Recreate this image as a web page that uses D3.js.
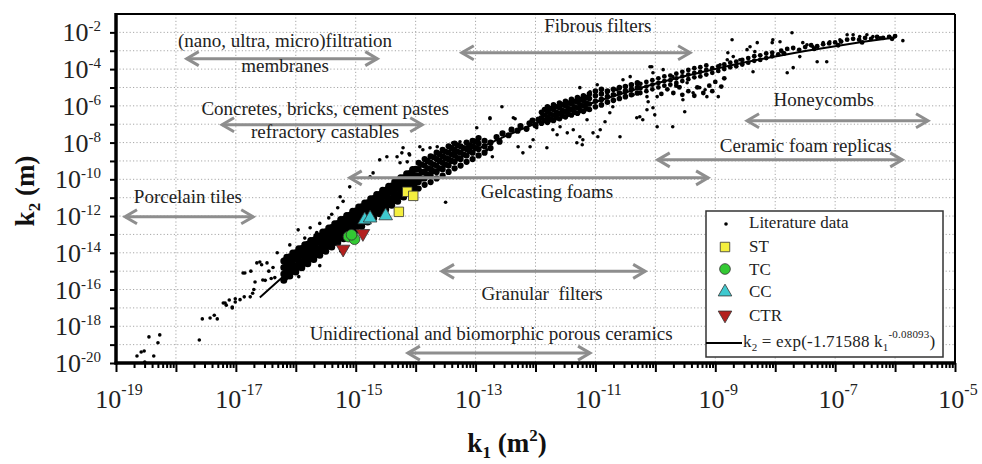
<!DOCTYPE html>
<html><head><meta charset="utf-8">
<script src="https://cdn.jsdelivr.net/npm/d3@7"></script>
<style>body{margin:0;background:#fff}svg{display:block}</style>
</head><body>
<svg id="chart" width="982" height="464"></svg>
<script>
// ---------- DATA (log10 exponents: [log10 k1 (m²), log10 k2 (m)]) ----------
const xLabelExps = [-19, -17, -15, -13, -11, -9, -7, -5];
const yLabelExps = [-20, -18, -16, -14, -12, -10, -8, -6, -4, -2];

const litTail = [[-18.65,-19.62],[-18.58,-19.4],[-18.53,-19.35],[-18.45,-18.58],[-18.37,-19.62],[-18.3,-18.9],[-18.27,-18.47],[-18.52,-19.95],
[-17.61,-18.75],[-17.56,-17.6],[-17.43,-17.55],[-17.36,-17.4],[-17.31,-17.6],[-17.21,-16.73],[-17.16,-16.85],[-17.11,-16.57],[-17.06,-17.0],[-17.01,-16.5],
[-16.93,-16.55],[-16.86,-16.4],[-16.88,-15.1],[-16.75,-15.0],[-16.7,-16.0],[-16.65,-14.55],[-16.57,-14.65],[-16.72,-16.2],[-16.51,-15.5],[-16.41,-15.4],
[-16.35,-15.35],[-16.21,-15.1],[-16.13,-14.55],[-17.18,-16.73],[-17.06,-16.95],[-17.01,-16.68],[-16.76,-16.4],[-16.85,-15.1],[-16.6,-14.5],[-16.48,-14.55],
[-16.68,-15.59],[-16.55,-15.48],[-16.31,-14.0],[-16.1,-13.57],[-15.96,-12.75],[-15.76,-12.64],[-15.6,-12.4],[-15.45,-12.1],[-15.65,-12.9],[-15.85,-13.2],[-15.4,-11.9],
[-15.95,-15.3],[-15.6,-14.7],[-15.25,-13.9],[-16.45,-15.0],[-16.38,-14.8]];

const litBand = [
[-16.2,-15.5],[-16.2,-15.15],[-16.2,-14.8],[-16.2,-14.45],[-16.15,-15.24],[-16.15,-14.9],[-16.15,-14.54],[-16.15,-14.24],
[-16.1,-15.27],[-16.1,-14.92],[-16.1,-14.57],[-16.1,-14.22],[-16.05,-15.01],[-16.05,-14.66],[-16.05,-14.31],[-16.05,-14.01],
[-16.0,-15.05],[-16.0,-14.7],[-16.0,-14.35],[-16.0,-14.0],[-15.95,-14.78],[-15.95,-14.43],[-15.95,-14.08],[-15.95,-13.78],
[-15.9,-14.82],[-15.9,-14.47],[-15.9,-14.12],[-15.9,-13.77],[-15.85,-14.56],[-15.85,-14.21],[-15.85,-13.86],[-15.85,-13.56],
[-15.8,-14.59],[-15.8,-14.24],[-15.8,-13.89],[-15.8,-13.54],[-15.75,-14.33],[-15.75,-13.98],[-15.75,-13.63],[-15.75,-13.33],
[-15.7,-14.37],[-15.7,-14.02],[-15.7,-13.67],[-15.7,-13.32],[-15.65,-14.1],[-15.65,-13.75],[-15.65,-13.4],[-15.65,-13.1],
[-15.6,-14.14],[-15.6,-13.79],[-15.6,-13.44],[-15.6,-13.09],[-15.55,-13.87],[-15.55,-13.52],[-15.55,-13.17],[-15.55,-12.87],
[-15.5,-13.91],[-15.5,-13.56],[-15.5,-13.21],[-15.5,-12.86],[-15.45,-13.65],[-15.45,-13.3],[-15.45,-12.95],[-15.45,-12.65],
[-15.4,-13.68],[-15.4,-13.33],[-15.4,-12.98],[-15.4,-12.63],[-15.35,-13.42],[-15.35,-13.07],[-15.35,-12.72],[-15.35,-12.42],
[-15.3,-13.46],[-15.3,-13.11],[-15.3,-12.76],[-15.3,-12.41],[-15.25,-13.19],[-15.25,-12.84],[-15.25,-12.49],[-15.25,-12.19],
[-15.2,-13.23],[-15.2,-12.88],[-15.2,-12.53],[-15.2,-12.18],[-15.15,-12.97],[-15.15,-12.62],[-15.15,-12.27],[-15.15,-11.97],
[-15.1,-13.0],[-15.1,-12.65],[-15.1,-12.3],[-15.1,-11.95],[-15.05,-12.74],[-15.05,-12.39],[-15.05,-12.04],[-15.05,-11.74],
[-15.0,-12.78],[-15.0,-12.43],[-15.0,-12.08],[-15.0,-11.73],[-14.95,-12.51],[-14.95,-12.16],[-14.95,-11.81],[-14.95,-11.51],
[-14.9,-12.55],[-14.9,-12.2],[-14.9,-11.85],[-14.9,-11.5],[-14.85,-12.29],[-14.85,-11.94],[-14.85,-11.59],[-14.85,-11.29],
[-14.8,-12.32],[-14.8,-11.97],[-14.8,-11.62],[-14.8,-11.27],[-14.75,-12.06],[-14.75,-11.71],[-14.75,-11.36],[-14.75,-11.06],
[-14.7,-12.1],[-14.7,-11.75],[-14.7,-11.4],[-14.7,-11.05],[-14.65,-11.83],[-14.65,-11.48],[-14.65,-11.13],[-14.65,-10.83],
[-14.6,-11.87],[-14.6,-11.52],[-14.6,-11.17],[-14.6,-10.82],[-14.55,-11.6],[-14.55,-11.25],[-14.55,-10.9],[-14.55,-10.6],
[-14.5,-11.64],[-14.5,-11.29],[-14.5,-10.94],[-14.5,-10.59],[-14.45,-11.38],[-14.45,-11.03],[-14.45,-10.68],[-14.45,-10.38],
[-14.4,-11.41],[-14.4,-11.06],[-14.4,-10.71],[-14.4,-10.36],[-14.35,-11.15],[-14.35,-10.8],[-14.35,-10.45],[-14.35,-10.15],
[-14.3,-11.19],[-14.3,-10.84],[-14.3,-10.49],[-14.3,-10.14],[-14.25,-10.92],[-14.25,-10.57],[-14.25,-10.22],[-14.25,-9.92],
[-14.2,-10.96],[-14.2,-10.61],[-14.2,-10.26],[-14.2,-9.91],[-14.15,-10.7],[-14.15,-10.35],[-14.15,-10.0],[-14.15,-9.7],
[-14.1,-10.73],[-14.1,-10.38],[-14.1,-10.03],[-14.1,-9.68],[-14.05,-10.47],[-14.05,-10.12],[-14.05,-9.77],[-14.05,-9.47],
[-14.0,-10.5],[-14.0,-10.15],[-14.0,-9.8],[-14.0,-9.45]];

const litBandExtra = [[-16.17,-15.3],[-16.12,-14.75],[-16.07,-14.45],[-16.02,-14.85],[-15.97,-14.2],[-15.93,-14.6],[-15.88,-13.95],[-15.83,-14.4],
[-15.78,-13.75],[-15.73,-14.15],[-15.68,-13.5],[-15.63,-13.9],[-15.58,-13.3],[-15.53,-13.7],[-15.48,-13.05],[-15.43,-13.45],[-15.38,-12.8],
[-15.33,-13.25],[-15.28,-12.6],[-15.23,-13.0],[-15.18,-12.35],[-15.13,-12.8],[-15.08,-12.15],[-15.03,-12.55],[-14.98,-11.9],[-14.93,-12.35],
[-14.88,-11.7],[-14.83,-12.1],[-14.78,-11.45],[-14.73,-11.9],[-14.68,-11.25],[-14.63,-11.65],[-14.58,-11.0],[-14.53,-11.45],[-14.48,-10.8],
[-14.43,-11.2],[-14.38,-10.55],[-14.33,-11.0],[-14.28,-10.35],[-14.23,-10.75],[-14.18,-10.1],[-14.13,-10.55],[-14.08,-9.9],[-14.03,-10.3]];

const litCluster13 = [
[-13.95,-10.5],[-13.95,-10.15],[-13.95,-9.8],[-13.95,-9.45],[-13.95,-9.1],[-13.85,-10.3],[-13.85,-9.95],[-13.85,-9.6],[-13.85,-9.25],[-13.85,-8.9],
[-13.75,-10.15],[-13.75,-9.8],[-13.75,-9.45],[-13.75,-9.1],[-13.75,-8.75],[-13.65,-9.95],[-13.65,-9.6],[-13.65,-9.25],[-13.65,-8.9],[-13.65,-8.55],
[-13.55,-9.8],[-13.55,-9.45],[-13.55,-9.1],[-13.55,-8.75],[-13.55,-8.4],[-13.45,-9.6],[-13.45,-9.25],[-13.45,-8.9],[-13.45,-8.55],[-13.45,-8.2],
[-13.35,-9.4],[-13.35,-9.05],[-13.35,-8.7],[-13.35,-8.4],[-13.35,-8.05],[-13.25,-9.25],[-13.25,-8.9],[-13.25,-8.55],[-13.25,-8.2],
[-13.15,-9.05],[-13.15,-8.7],[-13.15,-8.35],[-13.15,-8.0],[-13.05,-8.9],[-13.05,-8.55],[-13.05,-8.2],[-13.05,-7.9],
[-12.95,-8.7],[-12.95,-8.35],[-12.95,-8.05],[-12.95,-7.75],[-12.85,-8.55],[-12.85,-8.2],[-12.85,-7.9],[-12.75,-8.3],[-12.75,-8.0],
[-13.9,-9.95],[-13.9,-9.6],[-13.9,-9.2],[-13.8,-9.75],[-13.8,-9.4],[-13.8,-9.0],[-13.7,-9.55],[-13.7,-9.2],[-13.7,-8.8],
[-13.6,-9.4],[-13.6,-9.0],[-13.6,-8.65],[-13.5,-9.2],[-13.5,-8.85],[-13.5,-8.5],[-13.4,-9.0],[-13.4,-8.65],[-13.4,-8.3],
[-13.3,-8.85],[-13.3,-8.5],[-13.3,-8.15],[-13.2,-8.65],[-13.2,-8.3],[-13.1,-8.45],[-13.1,-8.15],[-13.0,-8.3],[-13.0,-7.95],
[-12.65,-7.7],[-12.6,-7.95],[-12.55,-7.5],[-12.45,-7.6],[-12.4,-7.3],[-12.3,-7.35],[-12.25,-7.1],[-12.15,-7.25],[-12.1,-6.95],[-12.0,-7.05],[-12.05,-6.8],[-11.95,-6.75]];

const litCluster11 = [
[-11.9,-6.95],[-11.9,-6.65],[-11.9,-6.35],[-11.85,-6.8],[-11.85,-6.5],[-11.85,-6.2],[-11.8,-6.9],[-11.8,-6.6],[-11.8,-6.3],[-11.8,-6.05],
[-11.75,-6.75],[-11.75,-6.45],[-11.75,-6.15],[-11.7,-6.8],[-11.7,-6.5],[-11.7,-6.2],[-11.7,-5.95],[-11.65,-6.65],[-11.65,-6.35],[-11.65,-6.05],
[-11.6,-6.7],[-11.6,-6.4],[-11.6,-6.1],[-11.6,-5.85],[-11.55,-6.55],[-11.55,-6.25],[-11.55,-5.95],[-11.5,-6.6],[-11.5,-6.3],[-11.5,-6.0],[-11.5,-5.75],
[-11.45,-6.45],[-11.45,-6.15],[-11.45,-5.85],[-11.4,-6.5],[-11.4,-6.2],[-11.4,-5.9],[-11.4,-5.65],[-11.35,-6.35],[-11.35,-6.05],[-11.35,-5.75],
[-11.3,-6.4],[-11.3,-6.1],[-11.3,-5.8],[-11.3,-5.55],[-11.25,-6.25],[-11.25,-5.95],[-11.25,-5.65],[-11.2,-6.3],[-11.2,-6.0],[-11.2,-5.7],[-11.2,-5.45],
[-11.15,-6.15],[-11.15,-5.85],[-11.15,-5.55],[-11.1,-6.2],[-11.1,-5.9],[-11.1,-5.6],[-11.1,-5.35],[-11.0,-6.05],[-11.0,-5.75],[-11.0,-5.45],[-11.0,-5.2],
[-10.9,-5.95],[-10.9,-5.65],[-10.9,-5.35],[-10.9,-5.1],[-10.8,-5.8],[-10.8,-5.5],[-10.8,-5.2],[-10.7,-5.7],[-10.7,-5.4],[-10.7,-5.1],
[-10.6,-5.6],[-10.6,-5.3],[-10.6,-5.0],[-10.5,-5.5],[-10.5,-5.2],[-10.5,-4.95],[-10.4,-5.4],[-10.4,-5.1],[-10.4,-4.85],[-10.3,-5.3],[-10.3,-5.0],[-10.3,-4.75]];

const litCluster9 = [
[-10.25,-5.3],[-10.25,-5.05],[-10.25,-4.8],[-10.15,-5.2],[-10.15,-4.95],[-10.15,-4.7],[-10.05,-5.1],[-10.05,-4.85],[-10.05,-4.6],
[-9.95,-5.0],[-9.95,-4.75],[-9.95,-4.5],[-9.85,-4.9],[-9.85,-4.65],[-9.85,-4.4],[-9.75,-4.85],[-9.75,-4.6],[-9.75,-4.35],
[-9.65,-4.75],[-9.65,-4.5],[-9.65,-4.25],[-9.55,-4.65],[-9.55,-4.4],[-9.55,-4.15],[-9.45,-4.55],[-9.45,-4.3],[-9.45,-4.05],
[-9.35,-4.45],[-9.35,-4.2],[-9.35,-3.95],[-9.25,-4.4],[-9.25,-4.15],[-9.25,-3.9],[-9.15,-4.3],[-9.15,-4.05],[-9.15,-3.8],
[-9.05,-4.2],[-9.05,-3.95],[-8.95,-4.1],[-8.95,-3.85],[-8.85,-4.0],[-8.85,-3.75],[-8.75,-3.9],[-8.75,-3.65],[-8.65,-3.85],[-8.65,-3.6],
[-8.55,-3.75],[-8.55,-3.5],[-8.45,-3.65],[-8.45,-3.4],[-8.35,-3.55],[-8.35,-3.3],[-8.25,-3.5],[-8.25,-3.25],[-8.15,-3.4],[-8.15,-3.15],
[-8.05,-3.3],[-8.05,-3.1],[-7.95,-3.2],[-7.85,-3.15],
[-9.8,-5.1],[-9.7,-5.3],[-9.6,-5.0],[-9.55,-5.4],[-9.45,-5.2],[-9.35,-5.45],[-9.3,-5.0],[-9.2,-5.3],[-9.1,-4.9],[-9.05,-5.2],[-9.0,-4.7],[-8.9,-4.95],[-8.85,-4.5],[-9.65,-4.9],[-9.9,-5.35],
[-7.9,-3.0],[-7.8,-2.9],[-7.7,-2.85],[-7.6,-2.95],[-7.5,-2.8],[-7.4,-2.7],[-7.3,-2.75],[-7.2,-2.65],[-7.1,-2.6],[-7.0,-2.55],[-6.9,-2.5],[-6.8,-2.4],
[-6.7,-2.35],[-6.6,-2.4],[-6.5,-2.3],[-6.4,-2.35],[-6.3,-2.25],[-6.2,-2.3],[-6.1,-2.25],[-6.0,-2.2],[-6.05,-2.35],[-6.55,-2.55],[-6.95,-2.7],[-7.35,-2.9]];

const litScatter = [
[-15.3,-11.55],[-15.21,-11.2],[-14.71,-9.65],[-14.23,-8.56],[-14.1,-8.67],[-14.14,-9.05],[-13.93,-9.5],
[-15.26,-10.95],[-15.1,-10.41],[-14.76,-9.86],[-14.6,-8.94],[-14.48,-8.77],[-14.31,-8.77],[-14.21,-8.28],[-13.93,-8.23],[-13.5,-11.25],
[-14.11,-8.61],[-14.26,-9.1],[-13.88,-8.39],[-13.76,-8.28],[-13.64,-8.23],[-13.59,-8.56],[-13.48,-8.94],[-13.38,-8.01],[-13.26,-7.96],
[-13.14,-8.23],[-13.04,-7.85],[-12.81,-8.39],[-12.72,-8.77],[-12.56,-6.05],[-12.76,-6.65],[-12.37,-6.65],[-12.29,-8.23],[-12.09,-8.23],
[-12.04,-7.85],[-11.89,-6.59],[-11.76,-6.38],[-11.71,-7.3],[-11.59,-7.14],[-11.47,-7.47],[-11.31,-8.01],[-11.21,-7.85],[-11.14,-6.76],
[-11.04,-7.47],[-10.96,-7.68],[-10.84,-6.87],[-10.76,-6.38],[-10.71,-6.05],[-10.54,-4.58],[-10.42,-4.41],[-10.59,-7.68],[-10.26,-6.59],
[-10.14,-5.5],[-12.98,-7.19],[-12.76,-6.7],[-12.34,-6.7],[-12.21,-8.56],[-11.98,-7.19],[-11.81,-8.28],[-11.64,-7.57],[-11.37,-7.3],
[-11.26,-7.68],[-11.22,-8.12],[-10.92,-7.3],[-11.26,-5.01],[-11.09,-5.23],[-10.97,-4.85],[-10.81,-5.29],[-10.64,-5.12],[-10.37,-5.4],
[-10.31,-6.65],[-10.21,-6.76],[-10.12,-5.78],[-10.06,-3.87],[-10.04,-4.2],[-9.97,-5.5],
[-10.09,-3.87],[-9.87,-4.03],[-9.71,-4.41],[-9.59,-4.96],[-9.54,-5.67],[-9.47,-4.74],[-9.37,-5.29],[-9.26,-5.01],[-9.17,-5.12],[-9.14,-5.5],
[-8.95,-5.5],[-8.92,-3.76],[-8.8,-3.49],[-8.79,-3.11],[-8.7,-3.32],[-8.59,-3.49],[-8.47,-2.94],[-8.42,-2.78],[-8.3,-2.56],[-8.34,-3.05],
[-8.72,-2.4],[-8.37,-4.14],[-8.05,-2.56],[-8.04,-2.4],[-7.92,-2.51],[-7.87,-3.11],[-7.8,-4.2],[-7.72,-2.02],[-7.7,-3.92],[-7.59,-3.32],
[-7.54,-2.56],[-7.47,-2.67],[-7.37,-2.78],[-7.3,-3.6],[-7.14,-3.6],[-7.2,-2.56],[-7.09,-2.51],[-6.92,-2.4],[-6.8,-2.13],[-6.7,-2.13],
[-6.59,-2.23],[-6.47,-2.13],[-6.37,-2.23],[-6.25,-2.29],[-6.09,-2.23],[-5.87,-2.45],[-9.71,-7.14],[-9.97,-7.14],[-10.01,-6.49],
[-10.04,-6.1],[-10.14,-6.21],[-9.51,-6.32]];

// Experimental samples
const stData  = [[-14.14,-10.68],[-14.04,-10.9],[-14.28,-11.77]];
const tcData  = [[-15.12,-13.12],[-15.02,-13.26],[-15.07,-13.02]];
const ccData  = [[-14.85,-12.21],[-14.76,-12.11],[-14.5,-11.99]];
const ctrData = [[-15.21,-13.8],[-14.88,-12.95]];

// Fit curve k2 = exp(-1.71588 k1^-0.08093), tabulated
const fitLogK1 = [-16.6,-16,-15.5,-15,-14.5,-14,-13.5,-13,-12.5,-12,-11.5,-11,-10.5,-10,-9.5,-9,-8.5,-8,-7.5,-7,-6.5,-6];
const fitLogK2 = [-16.43,-14.70,-13.39,-12.20,-11.11,-10.12,-9.22,-8.40,-7.65,-6.97,-6.35,-5.79,-5.27,-4.80,-4.38,-3.99,-3.63,-3.31,-3.02,-2.75,-2.50,-2.28];

// Annotation ranges (log10 k1 start, end, log10 k2 level)
const annotations = [
  {lines:["(nano, ultra, micro)filtration","membranes"], from:-17.82, to:-14.64, at:-3.43, tx:-16.18, ty:[-2.78,-4.14]},
  {lines:["Concretes, bricks, cement pastes","refractory castables"], from:-17.23, to:-13.89, at:-7.03, tx:-15.51, ty:[-6.48,-7.74]},
  {lines:["Porcelain tiles"], from:-18.85, to:-16.71, at:-12.04, tx:-17.80, ty:[-11.28]},
  {lines:["Fibrous filters"], from:-13.23, to:-9.42, at:-3.11, tx:-10.96, ty:[-1.96]},
  {lines:["Honeycombs"], from:-8.47, to:-5.45, at:-6.81, tx:-7.19, ty:[-5.99]},
  {lines:["Ceramic foam replicas"], from:-9.96, to:-5.88, at:-8.94, tx:-7.49, ty:[-8.50]},
  {lines:["Gelcasting foams"], from:-15.1, to:-9.12, at:-9.92, tx:-11.81, ty:[-11.01]},
  {lines:["Granular  filters"], from:-13.56, to:-10.17, at:-15.01, tx:-11.89, ty:[-16.57]},
  {lines:["Unidirectional and biomorphic porous ceramics"], from:-14.13, to:-11.09, at:-19.46, tx:-12.74, ty:[-18.75]}
];

// ---------- DRAWING ----------
const P = e => Math.pow(10, e);
const FONT = "'Liberation Serif','Times New Roman',serif";
const svg = d3.select("#chart");
const x = d3.scaleLog().domain([1e-19, 1e-5]).range([116, 955]);
const y = d3.scaleLog().domain([1e-20, 1e-1]).range([363, 14]);

// grid
const grid = svg.append("g").attr("stroke", "#a8a8a8").attr("stroke-width", 1).attr("stroke-dasharray", "1.2,2.2");
d3.range(-18, -5).forEach(e => grid.append("line").attr("x1", x(P(e))).attr("x2", x(P(e))).attr("y1", y(1e-1)).attr("y2", y(1e-20)));
d3.range(-19, -1).forEach(e => grid.append("line").attr("x1", x(1e-19)).attr("x2", x(1e-5)).attr("y1", y(P(e))).attr("y2", y(P(e))));

// literature points
const pts = svg.append("g").attr("fill", "#000");
function dots(data, r) {
  pts.append("g").selectAll("circle").data(data).join("circle")
    .attr("cx", d => x(P(d[0]))).attr("cy", d => y(P(d[1]))).attr("r", r);
}
dots(litTail, 1.8);
dots(litScatter, 1.8);
dots(litBand, 3.5);
dots(litBandExtra, 3.5);
dots(litCluster13, 3.1);
dots(litCluster11, 2.8);
dots(litCluster9, 2.4);

// fit line
const fitPts = fitLogK1.map((v, i) => [P(v), P(fitLogK2[i])]);
svg.append("path").datum(fitPts)
  .attr("d", d3.line().x(d => x(d[0])).y(d => y(d[1])).curve(d3.curveMonotoneX))
  .attr("fill", "none").attr("stroke", "#000").attr("stroke-width", 2);

// annotation arrows
const arrowColor = "#8e8e8e";
function arrow(g, x1, x2, yy) {
  g.append("line").attr("x1", x1).attr("x2", x2).attr("y1", yy).attr("y2", yy);
  g.append("path").attr("d", `M${x1 + 12},${yy - 7} L${x1},${yy} L${x1 + 12},${yy + 7}`);
  g.append("path").attr("d", `M${x2 - 12},${yy - 7} L${x2},${yy} L${x2 - 12},${yy + 7}`);
}
const ag = svg.append("g").attr("stroke", arrowColor).attr("stroke-width", 3).attr("fill", "none");
annotations.forEach(a => arrow(ag, x(P(a.from)), x(P(a.to)), y(P(a.at))));
const tg = svg.append("g").attr("font-family", FONT).attr("font-size", 19).attr("fill", "#222").attr("text-anchor", "middle");
annotations.forEach(a => a.lines.forEach((t, i) =>
  tg.append("text").attr("x", x(P(a.tx))).attr("y", y(P(a.ty[i]))).attr("xml:space", "preserve").text(t)));

// samples
const sym = (type, size) => d3.symbol().type(type).size(size)();
function samples(data, type, size, fill, rot) {
  svg.append("g").selectAll("path").data(data).join("path")
    .attr("d", sym(type, size))
    .attr("transform", d => `translate(${x(P(d[0]))},${y(P(d[1]))})` + (rot ? " rotate(180)" : ""))
    .attr("fill", fill).attr("stroke", "#333").attr("stroke-width", 0.8);
}
samples(stData, d3.symbolSquare, 90, "#f4ef3e", false);
samples(tcData, d3.symbolCircle, 90, "#33c933", false);
samples(ccData, d3.symbolTriangle, 80, "#3fc9cf", false);
samples(ctrData, d3.symbolTriangle, 80, "#b3201e", true);

// axes
const yAxis = svg.append("g").attr("transform", `translate(${x(1e-19)},0)`)
  .call(d3.axisLeft(y).tickValues(d3.range(-20, -1).map(P)).tickSize(6).tickFormat(""));
const xMajor = svg.append("g").attr("transform", `translate(0,${y(1e-20)})`)
  .call(d3.axisBottom(x).tickValues(d3.range(-19, -4).map(P)).tickSize(9).tickFormat(""));
const minorVals = [];
d3.range(-19, -5).forEach(e => d3.range(2, 10).forEach(m => minorVals.push(m * P(e))));
const xMinor = svg.append("g").attr("transform", `translate(0,${y(1e-20)})`)
  .call(d3.axisBottom(x).tickValues(minorVals).tickSize(5).tickFormat(""));
[yAxis, xMajor, xMinor].forEach(g => {
  g.select(".domain").remove();
  g.selectAll(".tick line").attr("stroke", "#000").attr("stroke-width", 2);
});

// frame
svg.append("line").attr("x1", x(1e-19)).attr("x2", x(1e-5)).attr("y1", y(1e-1)).attr("y2", y(1e-1)).attr("stroke", "#000").attr("stroke-width", 2);
svg.append("line").attr("x1", x(1e-5)).attr("x2", x(1e-5)).attr("y1", y(1e-1)).attr("y2", y(1e-20)).attr("stroke", "#000").attr("stroke-width", 2);
svg.append("line").attr("x1", x(1e-19)).attr("x2", x(1e-19)).attr("y1", y(1e-1) - 1).attr("y2", y(1e-20) + 1.5).attr("stroke", "#000").attr("stroke-width", 3.5);
svg.append("line").attr("x1", x(1e-19) - 1.5).attr("x2", x(1e-5) + 1).attr("y1", y(1e-20)).attr("y2", y(1e-20)).attr("stroke", "#000").attr("stroke-width", 3.5);

// tick labels
const lab = svg.append("g").attr("font-family", FONT).attr("fill", "#222");
yLabelExps.forEach(e => {
  const t = lab.append("text").attr("x", x(1e-19) - 15).attr("y", y(P(e)) + 9).attr("text-anchor", "end").attr("font-size", 26);
  t.append("tspan").text("10");
  t.append("tspan").attr("font-size", 15).attr("dy", -10).text(String(e));
});
xLabelExps.forEach(e => {
  const t = lab.append("text").attr("x", x(P(e)) + 3).attr("y", y(1e-20) + 45).attr("text-anchor", "middle").attr("font-size", 26);
  t.append("tspan").text("10");
  t.append("tspan").attr("font-size", 16).attr("dy", -13).text(String(e));
});

// axis titles
const yt = svg.append("text").attr("transform", "translate(34,191) rotate(-90)").attr("text-anchor", "middle")
  .attr("font-family", FONT).attr("font-weight", "bold").attr("font-size", 27).attr("fill", "#111");
yt.append("tspan").text("k");
yt.append("tspan").attr("font-size", 17).attr("dy", 6).text("2");
yt.append("tspan").attr("dy", -6).text(" (m)");
const xt = svg.append("text").attr("x", 507).attr("y", 452).attr("text-anchor", "middle")
  .attr("font-family", FONT).attr("font-weight", "bold").attr("font-size", 27).attr("fill", "#111");
xt.append("tspan").text("k");
xt.append("tspan").attr("font-size", 17).attr("dy", 6).text("1");
xt.append("tspan").attr("dy", -6).text(" (m");
xt.append("tspan").attr("font-size", 17).attr("dy", -11).text("2");
xt.append("tspan").attr("dy", 11).text(")");

// legend
const lg = svg.append("g");
lg.append("rect").attr("x", 706).attr("y", 211).attr("width", 237).attr("height", 146)
  .attr("fill", "#fff").attr("stroke", "#333").attr("stroke-width", 1.5);
lg.append("circle").attr("cx", 726).attr("cy", 224).attr("r", 1.8).attr("fill", "#000");
lg.append("path").attr("d", sym(d3.symbolSquare, 90)).attr("transform", "translate(725,247)").attr("fill", "#f4ef3e").attr("stroke", "#333").attr("stroke-width", 0.8);
lg.append("path").attr("d", sym(d3.symbolCircle, 90)).attr("transform", "translate(725,269)").attr("fill", "#33c933").attr("stroke", "#333").attr("stroke-width", 0.8);
lg.append("path").attr("d", sym(d3.symbolTriangle, 80)).attr("transform", "translate(725,292)").attr("fill", "#3fc9cf").attr("stroke", "#333").attr("stroke-width", 0.8);
lg.append("path").attr("d", sym(d3.symbolTriangle, 80)).attr("transform", "translate(725,315) rotate(180)").attr("fill", "#b3201e").attr("stroke", "#333").attr("stroke-width", 0.8);
lg.append("line").attr("x1", 706).attr("x2", 742).attr("y1", 343).attr("y2", 343).attr("stroke", "#000").attr("stroke-width", 2);
const lt = lg.append("g").attr("font-family", FONT).attr("font-size", 17).attr("fill", "#222");
[["Literature data", 228], ["ST", 252], ["TC", 275], ["CC", 297], ["CTR", 321]].forEach(([t, yy]) =>
  lt.append("text").attr("x", 749).attr("y", yy).text(t));
const eq = lt.append("text").attr("x", 743).attr("y", 347).attr("letter-spacing", 0.2);
eq.append("tspan").text("k");
eq.append("tspan").attr("font-size", 11).attr("dy", 4).text("2");
eq.append("tspan").attr("dy", -4).text(" = exp(-1.71588 k");
eq.append("tspan").attr("font-size", 11).attr("dy", 4).text("1");
eq.append("tspan").attr("font-size", 11).attr("dy", -13).text("-0.08093");
eq.append("tspan").attr("dy", 9).text(")");
</script>
</body></html>
